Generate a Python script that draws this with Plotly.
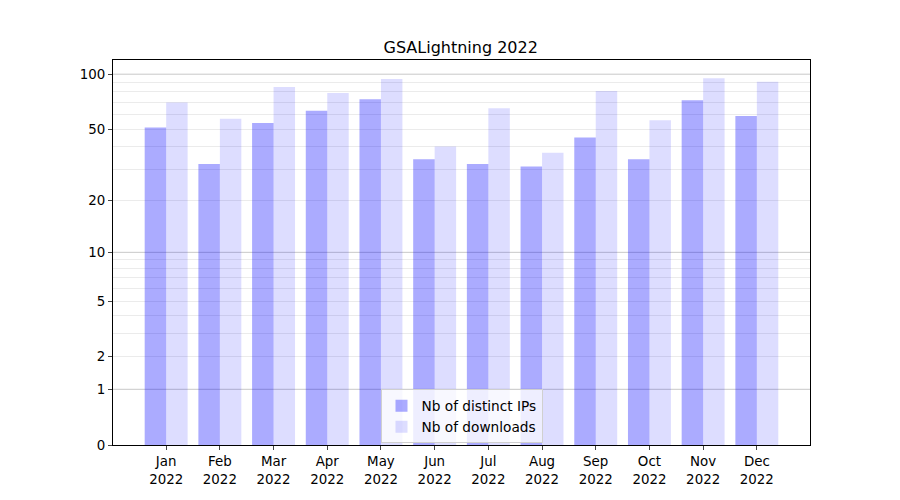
import numpy as np
import plotly.graph_objects as go

months = ["Jan", "Feb", "Mar", "Apr", "May", "Jun", "Jul", "Aug", "Sep", "Oct", "Nov", "Dec"]
year = "2022"
distinct_ips = [51, 32, 54, 63, 73, 34, 32, 31, 45, 34, 72, 59]
downloads = [70, 57, 85, 79, 94, 40, 65, 37, 81, 56, 95, 91]

y_ticks = [0, 1, 2, 5, 10, 20, 50, 100]
major_grid = [1, 10, 100]
minor_grid = [2, 3, 4, 5, 6, 7, 8, 9, 20, 30, 40, 50, 60, 70, 80, 90]


def fwd(v):
    # log(1 + x) scale, like the original function scale
    return np.log10(1 + np.asarray(v, dtype=float))


x = list(range(len(months)))
labels = [f"{m}<br>{year}" for m in months]

fig = go.Figure()
fig.add_trace(go.Bar(x=x, y=fwd(distinct_ips), name="Nb of distinct IPs",
                     marker=dict(color="rgba(0,0,255,0.33)", line=dict(width=0))))
fig.add_trace(go.Bar(x=x, y=fwd(downloads), name="Nb of downloads",
                     marker=dict(color="rgba(0,0,255,0.135)", line=dict(width=0))))

for g in major_grid:
    fig.add_shape(type="line", xref="paper", x0=0, x1=1, yref="y", y0=fwd(g), y1=fwd(g),
                  line=dict(color="rgba(0,0,0,0.22)", width=1), layer="below")

fig.update_layout(
    width=900, height=500,
    margin=dict(l=105, r=98, t=52, b=63),
    paper_bgcolor="white", plot_bgcolor="white",
    font=dict(family="DejaVu Sans", size=13.4, color="black"),
    title=dict(text="GSALightning 2022", x=0.503, xanchor="center", y=0.911, yanchor="bottom",
               font=dict(size=16)),
    barmode="group", bargap=0.2, bargroupgap=0,
    showlegend=True,
    legend=dict(x=0.5, xanchor="center", y=0.004, yanchor="bottom",
                bgcolor="rgba(255,255,255,0.8)", bordercolor="#d0d0d0", borderwidth=1,
                font=dict(size=13.7)),
    xaxis=dict(tickvals=x, ticktext=labels, range=[-0.99, 11.99],
               showline=True, linecolor="black", linewidth=1, mirror=True,
               ticks="outside", ticklen=4, showgrid=False, zeroline=False),
    yaxis=dict(tickvals=fwd(y_ticks), ticktext=[str(t) for t in y_ticks],
               range=[0, 2.081], showline=True, linecolor="black", linewidth=1, mirror=True,
               ticks="outside", ticklen=4, showgrid=False, zeroline=False,
               minor=dict(tickvals=fwd(minor_grid), showgrid=True,
                          gridcolor="rgba(0,0,0,0.08)", gridwidth=1, ticks="")),
)

fig.write_html("out.html")
